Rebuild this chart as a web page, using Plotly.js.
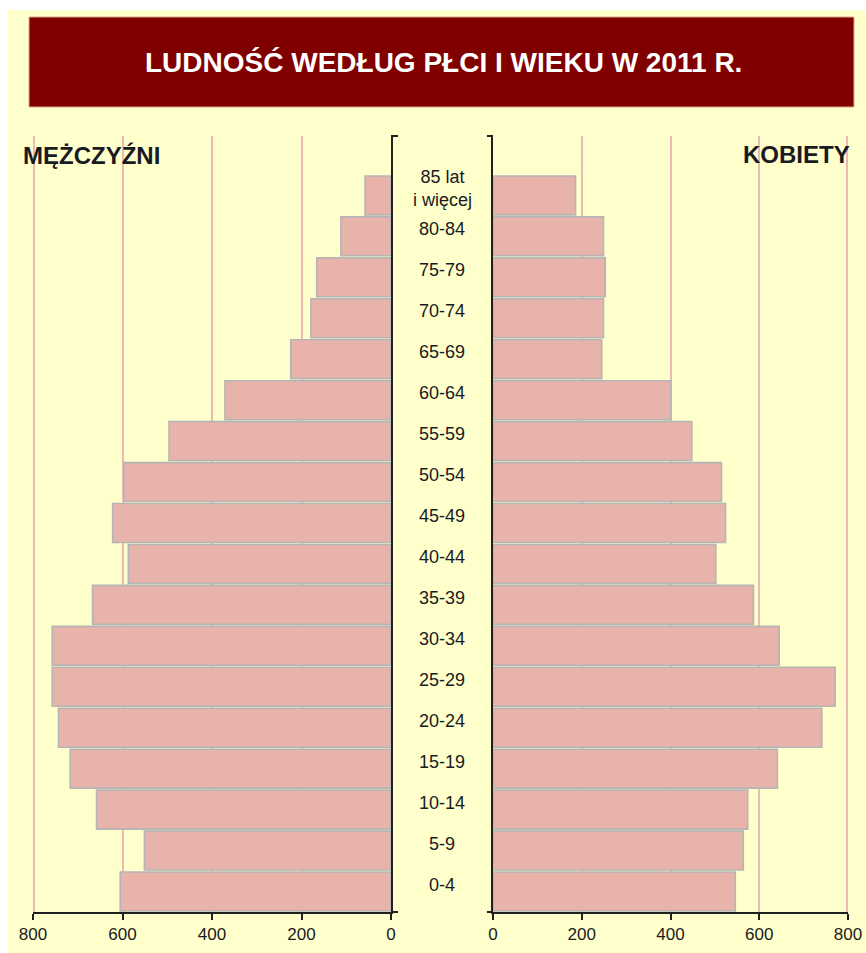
<!DOCTYPE html>
<html>
<head>
<meta charset="utf-8">
<script src="https://cdn.plot.ly/plotly-3.0.1.min.js"></script>
<style>
  html, body { margin: 0; padding: 0; background: #ffffff; }
  #chart { width: 866px; height: 953px; }
</style>
</head>
<body>
<div id="chart"></div>
<script>
// ---- DATA ----
const categories = ['0-4', '5-9', '10-14', '15-19', '20-24', '25-29', '30-34', '35-39', '40-44',
  '45-49', '50-54', '55-59', '60-64', '65-69', '70-74', '75-79', '80-84', '85+'];
const categoryLabels = ['0-4', '5-9', '10-14', '15-19', '20-24', '25-29', '30-34', '35-39', '40-44',
  '45-49', '50-54', '55-59', '60-64', '65-69', '70-74', '75-79', '80-84', '85 lat<br>i więcej'];
const men = [605, 551, 658, 717, 743, 757, 757, 667, 587, 622, 597, 496, 371, 224, 179, 166, 112, 58];
const women = [546, 564, 574, 641, 741, 771, 645, 587, 502, 524, 515, 448, 401, 245, 249, 253, 249, 186];
const tickValues = [0, 200, 400, 600, 800];
const tickLabels = ['0', '200', '400', '600', '800'];
const titleText = 'LUDNOŚĆ WEDŁUG PŁCI I WIEKU W 2011 R.';
const leftHeader = 'MĘŻCZYŹNI';
const rightHeader = 'KOBIETY';

// ---- LAYOUT GEOMETRY (pixels) ----
const W = 866, H = 953;
const M = { l: 33, r: 18, t: 136, b: 41 };
const PW = W - M.l - M.r, PH = H - M.t - M.b;
const px = x => (x - M.l) / PW;           // pixel x -> paper x
const py = y => 1 - (y - M.t) / PH;       // pixel y -> paper y

const FONT = '"Liberation Sans", Arial, "DejaVu Sans", sans-serif';
const TXT = '#1a1a22';
const barFill = '#E8B3AB';
const barLine = '#B5B5B5';
const gridCol = '#EDB9B5';
const axisCol = '#202020';

const leftDomain = [0, px(391)];
const rightDomain = [px(493), 1];
const axisMax = tickValues[tickValues.length - 1];

const traces = [
  {
    type: 'bar', orientation: 'h', name: leftHeader,
    x: men, y: categories, xaxis: 'x', yaxis: 'y',
    marker: { color: barFill, line: { color: barLine, width: 1.6 } },
    hoverinfo: 'x+y'
  },
  {
    type: 'bar', orientation: 'h', name: rightHeader,
    x: women, y: categories, xaxis: 'x2', yaxis: 'y2',
    marker: { color: barFill, line: { color: barLine, width: 1.6 } },
    hoverinfo: 'x+y'
  }
];

const xCommon = {
  tickvals: tickValues, ticktext: tickLabels,
  showgrid: true, gridcolor: gridCol, gridwidth: 2,
  zeroline: false, showline: true, linecolor: axisCol, linewidth: 2,
  ticks: 'outside', ticklen: 6, tickwidth: 2, tickcolor: axisCol,
  tickfont: { family: FONT, size: 17, color: TXT },
  fixedrange: true
};
const yCommon = {
  type: 'category', categoryorder: 'array', categoryarray: categories,
  range: [-0.5, 18.45], showticklabels: false, ticks: '',
  showgrid: false, zeroline: false, showline: true, linecolor: axisCol, linewidth: 2,
  fixedrange: true
};

const annotations = categories.map((c, i) => ({
  xref: 'paper', yref: 'y', x: px(442), y: c, yshift: 7,
  text: categoryLabels[i], showarrow: false,
  xanchor: 'center', yanchor: 'middle', align: 'center',
  font: { family: FONT, size: 18, color: TXT }
}));
annotations.push(
  { xref: 'paper', yref: 'paper', x: px(443), y: py(63), text: '<b>' + titleText + '</b>',
    showarrow: false, xanchor: 'center', yanchor: 'middle',
    font: { family: FONT, size: 28, color: '#ffffff' } },
  { xref: 'paper', yref: 'paper', x: px(21), y: py(155), text: '<b>' + leftHeader + '</b>',
    showarrow: false, xanchor: 'left', yanchor: 'middle',
    font: { family: FONT, size: 24, color: TXT } },
  { xref: 'paper', yref: 'paper', x: px(852), y: py(154), text: '<b>' + rightHeader + '</b>',
    showarrow: false, xanchor: 'right', yanchor: 'middle',
    font: { family: FONT, size: 24, color: TXT } }
);

const shapes = [
  // yellow page background
  { type: 'rect', xref: 'paper', yref: 'paper', layer: 'below',
    x0: px(8), x1: px(866), y0: py(10), y1: py(953),
    fillcolor: '#FFFFCC', line: { width: 0 } },
  // title banner
  { type: 'rect', xref: 'paper', yref: 'paper', layer: 'below',
    x0: px(29), x1: px(854), y0: py(17), y1: py(107),
    fillcolor: '#800000', line: { color: '#D9A98A', width: 1 } },
  // outer gridlines at the axis maximum (Plotly skips grid at the range edge)
  { type: 'line', xref: 'x', yref: 'paper', layer: 'below',
    x0: axisMax, x1: axisMax, y0: 0, y1: 1, line: { color: gridCol, width: 4 } },
  { type: 'line', xref: 'x2', yref: 'paper', layer: 'below',
    x0: axisMax, x1: axisMax, y0: 0, y1: 1, line: { color: gridCol, width: 4 } },
  // end ticks on the central axes
  { type: 'line', xref: 'paper', yref: 'paper', x0: px(391), x1: px(398), y0: py(136), y1: py(136),
    line: { color: axisCol, width: 2 } },
  { type: 'line', xref: 'paper', yref: 'paper', x0: px(391), x1: px(398), y0: py(912), y1: py(912),
    line: { color: axisCol, width: 2 } },
  { type: 'line', xref: 'paper', yref: 'paper', x0: px(487), x1: px(493), y0: py(136), y1: py(136),
    line: { color: axisCol, width: 2 } },
  { type: 'line', xref: 'paper', yref: 'paper', x0: px(487), x1: px(493), y0: py(912), y1: py(912),
    line: { color: axisCol, width: 2 } }
];

const layout = {
  width: W, height: H,
  margin: M,
  paper_bgcolor: '#ffffff',
  plot_bgcolor: 'rgba(0,0,0,0)',
  showlegend: false,
  bargap: 0.05,
  font: { family: FONT, color: TXT },
  xaxis: Object.assign({}, xCommon, { domain: leftDomain, range: [axisMax, 0], anchor: 'y' }),
  xaxis2: Object.assign({}, xCommon, { domain: rightDomain, range: [0, axisMax], anchor: 'y2' }),
  yaxis: Object.assign({}, yCommon, { anchor: 'x', side: 'right' }),
  yaxis2: Object.assign({}, yCommon, { anchor: 'x2', side: 'left', matches: 'y' }),
  annotations: annotations,
  shapes: shapes
};

Plotly.newPlot('chart', traces, layout, { displayModeBar: false, staticPlot: true });
</script>
</body>
</html>
